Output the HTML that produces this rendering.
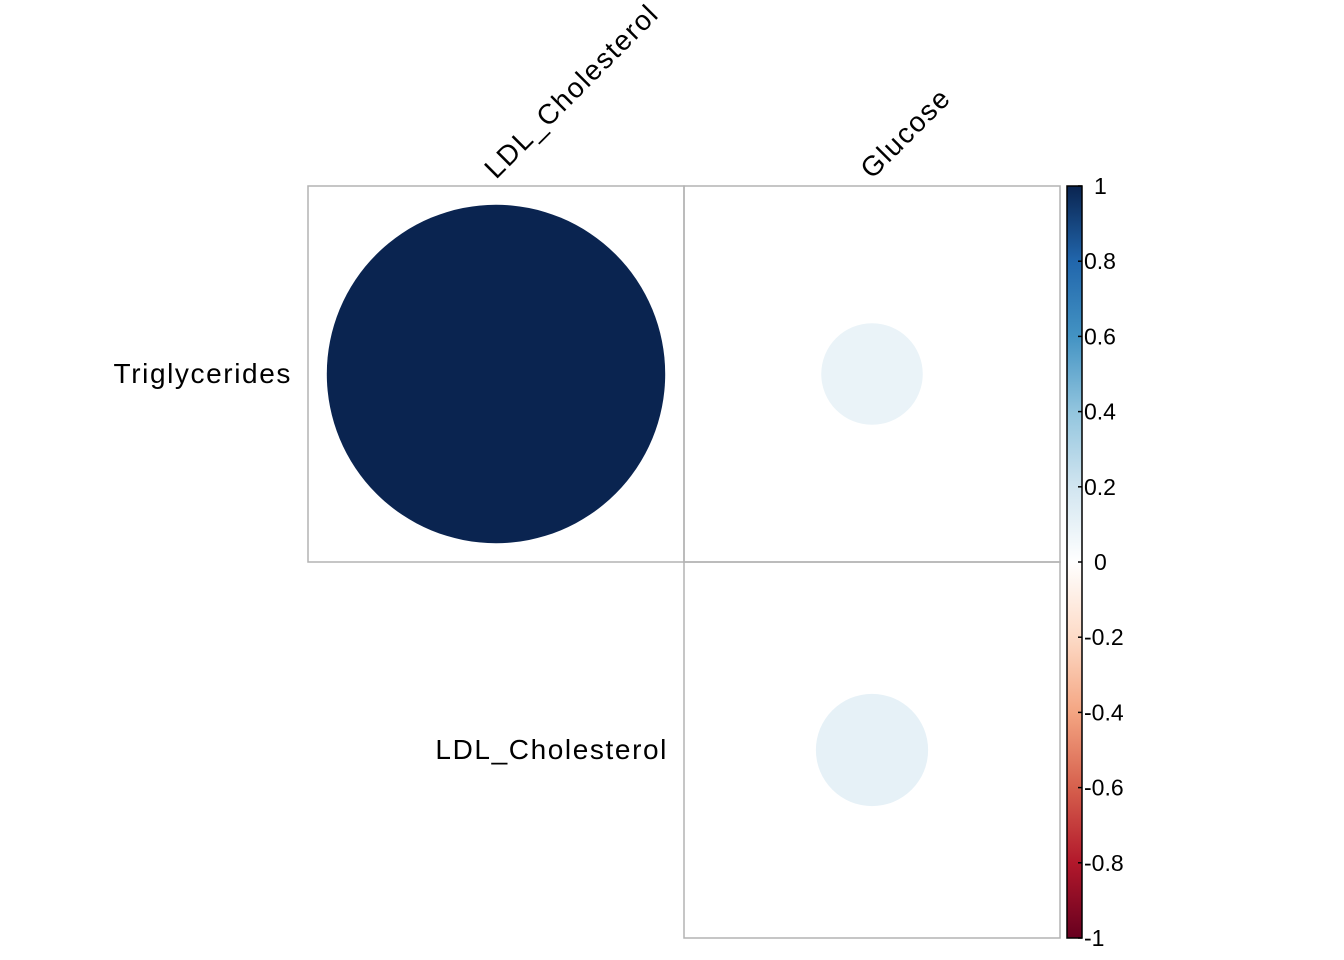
<!DOCTYPE html>
<html><head><meta charset="utf-8"><style>
html,body{margin:0;padding:0;background:#fff;}
svg{display:block;font-family:"Liberation Sans",Arial,sans-serif;}
</style></head><body>
<svg id="chart" width="1344" height="960" viewBox="0 0 1344 960" xmlns="http://www.w3.org/2000/svg">
<defs><linearGradient id="rdbu" x1="0" y1="1" x2="0" y2="0">
<stop offset="0" stop-color="#67001F"/><stop offset="0.1" stop-color="#B2182B"/><stop offset="0.2" stop-color="#D6604D"/><stop offset="0.3" stop-color="#F4A582"/><stop offset="0.4" stop-color="#FDDBC7"/><stop offset="0.5" stop-color="#FFFFFF"/><stop offset="0.6" stop-color="#D1E5F0"/><stop offset="0.7" stop-color="#92C5DE"/><stop offset="0.8" stop-color="#4393C3"/><stop offset="0.9" stop-color="#2166AC"/><stop offset="1" stop-color="#0A2450"/>
</linearGradient></defs>
<g id="cells"></g>
<g id="labels"></g>
<g id="legend"></g>
</svg>
<script>
const rowLabels = ["Triglycerides","LDL_Cholesterol"];
const colLabels = ["LDL_Cholesterol","Glucose"];
const cellRows = [0,0,1];
const cellCols = [0,1,1];
const cellValues = [1.0,0.09,0.11];
const legendTicks = [1,0.8,0.6,0.4,0.2,0,-0.2,-0.4,-0.6,-0.8,-1];

const NS="http://www.w3.org/2000/svg";
const x0=308,y0=186,cs=376;
const stops=[[-1,"#67001F"],[-0.8,"#B2182B"],[-0.6,"#D6604D"],[-0.4,"#F4A582"],[-0.2,"#FDDBC7"],[0,"#FFFFFF"],[0.2,"#D1E5F0"],[0.4,"#92C5DE"],[0.6,"#4393C3"],[0.8,"#2166AC"],[1,"#0A2450"]];
function hex(h){return [1,3,5].map(i=>parseInt(h.substr(i,2),16));}
function color(v){
  for(let i=0;i<stops.length-1;i++){
    if(v<=stops[i+1][0]){const t=(v-stops[i][0])/0.2;const a=hex(stops[i][1]),b=hex(stops[i+1][1]);
      return "rgb("+a.map((c,k)=>Math.round(c+(b[k]-c)*t)).join(",")+")";}
  }
  return stops[stops.length-1][1];
}
function mk(tag,attrs,parent){const e=document.createElementNS(NS,tag);for(const k in attrs)e.setAttribute(k,attrs[k]);parent.appendChild(e);return e;}
const cells=document.getElementById("cells"),labels=document.getElementById("labels"),legend=document.getElementById("legend");
const xs=c=>x0+c*cs, ys=r=>y0+r*cs;
for(let i=0;i<cellValues.length;i++){
  const r=cellRows[i],c=cellCols[i],v=cellValues[i];
  const rect=mk("rect",{x:xs(c),y:ys(r),width:cs,height:cs,fill:"none",stroke:"#b3b3b3","stroke-width":1.5},cells);
  
  
  const circ=mk("circle",{cx:xs(c)+cs/2,cy:ys(r)+cs/2,r:0.45*cs*Math.sqrt(Math.abs(v)),fill:color(v)},cells);
  
  
}
rowLabels.forEach((l,r)=>{
  const t=mk("text",{x:xs(r)-16,y:ys(r)+cs/2+9,"text-anchor":"end","font-size":28,"letter-spacing":1.6,fill:"#000"},labels);
  t.textContent=l;
  
  
});
colLabels.forEach((l,c)=>{
  const x=xs(c)+cs/2,y=y0-6;
  const t=mk("text",{x:x,y:y,"font-size":28,"letter-spacing":1.6,fill:"#000",transform:"rotate(-45 "+x+" "+y+")"},labels);
  t.textContent=l;
  
  
});
const lx=1067,lw=15,ly0=186,ly1=938;
const ly=v=>ly1-(v+1)/2*(ly1-ly0);
const bar=mk("rect",{x:lx,y:ly0,width:lw,height:ly1-ly0,fill:"url(#rdbu)",stroke:"#000","stroke-width":1.5},legend);


legendTicks.forEach(v=>{
  const y=ly(v);
  const tk=mk("line",{x1:lx+lw-4,x2:lx+lw,y1:y,y2:y,stroke:"#000","stroke-width":1.5},legend);
  
  
  const t=mk("text",{x:(v===0||v===1)?1094:1084,y:y+8,"font-size":23,fill:"#000"},legend);
  t.textContent=v===0?"0":(v===1?"1":(v===-1?"-1":String(v)));
  
  
});
</script>
</body></html>
